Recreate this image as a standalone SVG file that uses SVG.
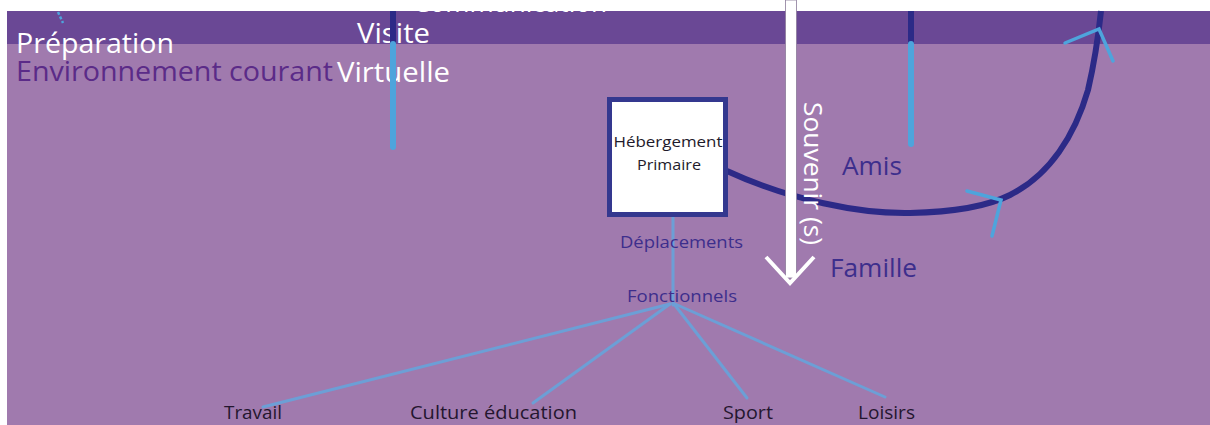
<svg xmlns="http://www.w3.org/2000/svg" width="1210" height="425" viewBox="0 0 1210 425">
<defs>
<style>
text{font-family:"Open Sans","Noto Sans","Liberation Sans",sans-serif;}
.white{fill:#ffffff;}
.big{font-size:27px;}
.navyt{fill:#3d2e8c;}
.dark{fill:#24162f;font-size:19px;}
.navy{stroke:#2c2a87;fill:none;stroke-width:6;}
.blue{stroke:#4ea4dc;fill:none;stroke-width:6;stroke-linecap:round;}
.branch{stroke:#6c9fd6;fill:none;stroke-width:3;stroke-linecap:round;}
.head{stroke:#4ea4dc;fill:none;stroke-width:3.5;stroke-linecap:round;stroke-linejoin:miter;}
</style>
</defs>
<rect x="0" y="0" width="1210" height="425" fill="#ffffff"/>
<rect x="7" y="11" width="1203" height="414" fill="#a07aae"/>
<rect x="7" y="11" width="1203" height="33" fill="#6a4895"/>

<g id="labels-top">
<text class="white big" x="413" y="12" textLength="194" lengthAdjust="spacingAndGlyphs">Communication</text>
<text class="white big" x="16" y="53" textLength="158" lengthAdjust="spacingAndGlyphs">Préparation</text>
<text class="big" x="16" y="81" fill="#5b2b88" textLength="317" lengthAdjust="spacingAndGlyphs">Environnement courant</text>
<text class="white big" x="357" y="43" textLength="73" lengthAdjust="spacingAndGlyphs">Visite</text>
<text class="white big" x="337" y="82" textLength="113" lengthAdjust="spacingAndGlyphs">Virtuelle</text>
</g>

<g id="connectors">
<line x1="58" y1="12" x2="63" y2="23" stroke="#4ea4dc" stroke-width="2.5" stroke-dasharray="3,2"/>
<line class="navy" x1="393" y1="11" x2="393" y2="44"/>
<line class="blue" x1="393" y1="44" x2="393" y2="147"/>
<line class="navy" x1="911" y1="11" x2="911" y2="44"/>
<line class="blue" x1="911" y1="44" x2="911" y2="144"/>
<path class="navy" stroke-width="5" d="M727,171 C790,200 860,214 910,213 C960,212 990,205 1010,195 C1050,175 1075,135 1088,90 C1095,60 1099,30 1101,11"/>
<polyline class="head" points="967,191 1001,200 992,236"/>
<polyline class="head" points="1065,43 1099,29 1113,61"/>
<line class="branch" x1="673" y1="217" x2="673" y2="305"/>
<line class="branch" x1="670" y1="304" x2="263" y2="407"/>
<line class="branch" x1="670" y1="304" x2="533" y2="403"/>
<line class="branch" x1="674" y1="304" x2="747" y2="398"/>
<line class="branch" x1="675" y1="304" x2="885" y2="397"/>
</g>

<g id="souvenir">
<rect x="785.5" y="0" width="11" height="278" fill="#ffffff" stroke="#8a7a9a" stroke-width="0.8"/>
<polyline points="766,257 790,283 814,257" fill="none" stroke="#ffffff" stroke-width="4"/>
<text class="white" font-size="25" transform="translate(804,102) rotate(90)" textLength="143" lengthAdjust="spacingAndGlyphs">Souvenir (s)</text>
</g>

<g id="hebergement">
<rect x="609.5" y="99.5" width="116" height="115" fill="#ffffff" stroke="#34388f" stroke-width="5"/>
<text x="668" y="147" font-size="14.5" fill="#1e1a2a" text-anchor="middle" textLength="109" lengthAdjust="spacingAndGlyphs">Hébergement</text>
<text x="669" y="170" font-size="14.5" fill="#1e1a2a" text-anchor="middle" textLength="64" lengthAdjust="spacingAndGlyphs">Primaire</text>
</g>

<g id="deplacements">
<text class="navyt" x="620" y="248" font-size="16" textLength="123" lengthAdjust="spacingAndGlyphs">Déplacements</text>
<text class="navyt" x="627" y="302" font-size="16" textLength="110" lengthAdjust="spacingAndGlyphs">Fonctionnels</text>
</g>

<g id="amis"><text class="navyt" x="842" y="175" font-size="25" textLength="60" lengthAdjust="spacingAndGlyphs">Amis</text></g>
<g id="famille"><text class="navyt" x="830" y="277" font-size="25" textLength="87" lengthAdjust="spacingAndGlyphs">Famille</text></g>

<g id="travail"><text class="dark" x="224" y="419" textLength="58" lengthAdjust="spacingAndGlyphs">Travail</text></g>
<g id="culture"><text class="dark" x="410" y="419" textLength="167" lengthAdjust="spacingAndGlyphs">Culture éducation</text></g>
<g id="sport"><text class="dark" x="723" y="419" textLength="50" lengthAdjust="spacingAndGlyphs">Sport</text></g>
<g id="loisirs"><text class="dark" x="858" y="419" textLength="57" lengthAdjust="spacingAndGlyphs">Loisirs</text></g>
</svg>
